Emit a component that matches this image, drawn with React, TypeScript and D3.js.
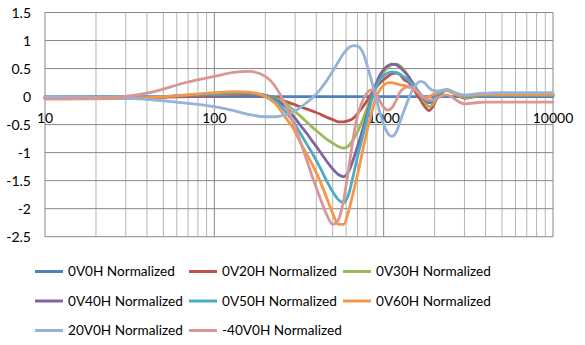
import React from "react";
import * as d3 from "d3";

const freqs = [10, 20, 40, 70, 100, 130, 160, 200, 230, 260, 290, 320, 350, 380, 420, 460, 500, 540, 580, 620, 660, 700, 750, 800, 850, 900, 950, 1000, 1060, 1120, 1180, 1250, 1320, 1400, 1480, 1560, 1650, 1750, 1850, 1950, 2050, 2200, 2350, 2500, 2700, 3000, 3500, 4000, 5000, 7000, 10000];

const s0V0H = freqs.map(() => 0);
const s0V20H = [-0.03, -0.03, -0.02, 0.0, 0.02, 0.03, 0.03, 0.01, -0.02, -0.08, -0.13, -0.18, -0.22, -0.26, -0.31, -0.37, -0.41, -0.45, -0.45, -0.43, -0.39, -0.31, -0.19, -0.07, 0.06, 0.16, 0.24, 0.3, 0.36, 0.41, 0.42, 0.39, 0.3, 0.26, 0.16, 0.05, -0.06, -0.18, -0.25, -0.18, -0.05, 0.06, 0.12, 0.09, 0.03, -0.03, 0.0, 0.02, 0.02, 0.02, 0.02];
const s0V30H = [-0.03, -0.03, -0.02, 0.02, 0.04, 0.05, 0.05, 0.02, -0.03, -0.1, -0.23, -0.34, -0.45, -0.55, -0.66, -0.76, -0.83, -0.89, -0.92, -0.88, -0.77, -0.63, -0.42, -0.2, 0.02, 0.18, 0.32, 0.43, 0.52, 0.57, 0.58, 0.55, 0.47, 0.36, 0.24, 0.12, 0.02, -0.1, -0.18, -0.14, -0.02, 0.07, 0.11, 0.09, 0.03, -0.02, 0.01, 0.02, 0.02, 0.02, 0.02];
const s0V40H = [-0.03, -0.03, -0.02, 0.02, 0.05, 0.06, 0.05, 0.02, -0.05, -0.17, -0.33, -0.5, -0.65, -0.8, -0.98, -1.15, -1.29, -1.39, -1.43, -1.34, -1.13, -0.9, -0.6, -0.3, 0.0, 0.22, 0.38, 0.48, 0.55, 0.58, 0.57, 0.52, 0.45, 0.36, 0.25, 0.14, 0.04, -0.06, -0.11, -0.08, 0.0, 0.08, 0.12, 0.1, 0.04, 0.0, 0.02, 0.03, 0.03, 0.03, 0.03];
const s0V50H = [-0.03, -0.03, -0.02, 0.03, 0.05, 0.07, 0.06, 0.02, -0.08, -0.25, -0.43, -0.64, -0.84, -1.02, -1.26, -1.5, -1.7, -1.84, -1.89, -1.75, -1.42, -1.08, -0.72, -0.38, -0.06, 0.15, 0.3, 0.37, 0.42, 0.44, 0.43, 0.4, 0.35, 0.29, 0.22, 0.13, 0.04, -0.04, -0.08, -0.05, 0.02, 0.08, 0.11, 0.09, 0.04, 0.0, 0.02, 0.03, 0.03, 0.03, 0.03];
const s0V60H = [-0.04, -0.04, -0.02, 0.03, 0.07, 0.09, 0.08, 0.0, -0.13, -0.35, -0.55, -0.8, -1.02, -1.22, -1.5, -1.8, -2.08, -2.28, -2.28, -2.05, -1.72, -1.4, -0.98, -0.6, -0.28, -0.02, 0.12, 0.2, 0.25, 0.25, 0.23, 0.21, 0.2, 0.17, 0.15, 0.1, 0.03, -0.02, -0.01, 0.04, 0.07, 0.1, 0.11, 0.08, 0.04, 0.02, 0.03, 0.04, 0.04, 0.04, 0.04];
const s20V0H = [0.0, -0.01, -0.05, -0.12, -0.18, -0.25, -0.32, -0.36, -0.36, -0.33, -0.28, -0.2, -0.11, -0.02, 0.12, 0.28, 0.45, 0.62, 0.77, 0.87, 0.91, 0.9, 0.8, 0.55, 0.27, -0.02, -0.28, -0.5, -0.66, -0.71, -0.65, -0.45, -0.25, -0.05, 0.12, 0.22, 0.27, 0.24, 0.16, 0.11, 0.1, 0.11, 0.13, 0.1, 0.06, 0.03, 0.05, 0.06, 0.07, 0.07, 0.07];
const sM40V0H = [-0.04, -0.03, 0.06, 0.26, 0.36, 0.43, 0.45, 0.36, 0.17, -0.12, -0.44, -0.78, -1.12, -1.44, -1.8, -2.1, -2.28, -2.2, -1.85, -1.3, -0.75, -0.35, -0.08, 0.07, 0.12, 0.06, -0.08, -0.19, -0.24, -0.2, -0.08, 0.08, 0.15, 0.18, 0.16, 0.1, 0.03, -0.03, -0.06, -0.07, -0.04, 0.01, 0.03, 0.0, -0.07, -0.13, -0.11, -0.1, -0.1, -0.1, -0.1];

const seriesNames = ["0V0H Normalized", "0V20H Normalized", "0V30H Normalized", "0V40H Normalized", "0V50H Normalized", "0V60H Normalized", "20V0H Normalized", "-40V0H Normalized"];
const seriesValues = [s0V0H, s0V20H, s0V30H, s0V40H, s0V50H, s0V60H, s20V0H, sM40V0H];
const seriesColors = ["#4F81BD", "#C0504D", "#9BBB59", "#8064A2", "#4BACC6", "#F79646", "#95B3D7", "#D99694"];

const yTicks = [1.5, 1, 0.5, 0, -0.5, -1, -1.5, -2, -2.5];
const xTicks = [10, 100, 1000, 10000];

const W = 585;
const H = 345;
const FONT = "Lato, 'Open Sans', sans-serif";

export default function App() {
  const x = d3.scaleLog().domain([10, 10000]).range([45, 553]);
  const y = d3.scaleLinear().domain([-2.5, 1.5]).range([236.7, 12.5]);

  const minor: number[] = [];
  [10, 100, 1000].forEach((d) => {
    for (let k = 2; k <= 9; k++) minor.push(d * k);
  });

  const line = d3
    .line<number>()
    .x((_, i) => x(freqs[i]))
    .y((v) => y(v))
    .curve(d3.curveMonotoneX);

  const legendCols = [35, 189, 343];
  const legendRows = [271.5, 301, 330.5];

  return (
    <svg width={W} height={H} style={{ position: "absolute", left: 0, top: 0, background: "#fff" }}>
      <rect x={0} y={0} width={W} height={H} fill="#fff" />
      {minor.map((f) => (
        <line key={"m" + f} x1={x(f)} x2={x(f)} y1={y(1.5)} y2={y(-2.5)} stroke="#b4b4b4" strokeWidth={1} />
      ))}
      {xTicks.map((f) => (
        <line key={"M" + f} x1={x(f)} x2={x(f)} y1={y(1.5)} y2={y(-2.5)} stroke="#878787" strokeWidth={1} />
      ))}
      {yTicks.map((t) => (
        <line key={"h" + t} x1={x(10)} x2={x(10000)} y1={y(t)} y2={y(t)} stroke="#878787" strokeWidth={1} />
      ))}
      {yTicks.map((t) => (
        <text key={"yl" + t} x={31} y={y(t)} dy="0.36em" textAnchor="end" fontFamily={FONT} fontSize={14} fill="#000">
          {t}
        </text>
      ))}
      {xTicks.map((f) => (
        <text key={"xl" + f} x={x(f)} y={123} textAnchor="middle" fontFamily={FONT} fontSize={14} fill="#000">
          {f}
        </text>
      ))}
      {seriesValues.map((vals, i) => (
        <path key={"s" + i} d={line(vals) || ""} fill="none" stroke={seriesColors[i]} strokeWidth={2.8} strokeLinejoin="round" strokeLinecap="round" />
      ))}
      {seriesNames.map((n, i) => {
        const cx = legendCols[i % 3];
        const cy = legendRows[Math.floor(i / 3)];
        return (
          <g key={"lg" + i}>
            <line x1={cx} x2={cx + 28} y1={cy} y2={cy} stroke={seriesColors[i]} strokeWidth={3} />
            <text x={cx + 33} y={cy} dy="0.36em" fontFamily={FONT} fontSize={13.6} fill="#000">
              {n}
            </text>
          </g>
        );
      })}
    </svg>
  );
}
